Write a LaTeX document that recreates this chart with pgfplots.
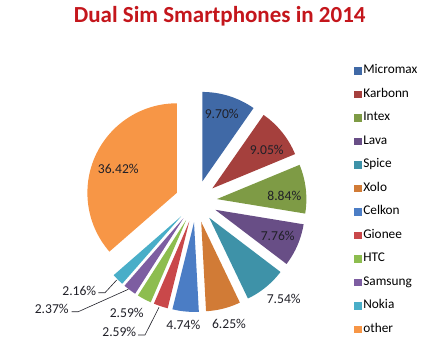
\documentclass[border=0pt]{standalone}
\usepackage{pgfplots}
\pgfplotsset{compat=1.18}
\usepackage{fontspec}
\setmainfont{Carlito}
\definecolor{cMicromax}{HTML}{4069A6}
\definecolor{cKarbonn}{HTML}{A5403D}
\definecolor{cIntex}{HTML}{7E9B45}
\definecolor{cLava}{HTML}{684E86}
\definecolor{cSpice}{HTML}{3E92A8}
\definecolor{cXolo}{HTML}{D17B36}
\definecolor{cCelkon}{HTML}{4B7DC5}
\definecolor{cGionee}{HTML}{C9484A}
\definecolor{cHTC}{HTML}{8DBD4F}
\definecolor{cSamsung}{HTML}{7D5DA1}
\definecolor{cNokia}{HTML}{49AEC8}
\definecolor{cother}{HTML}{F79646}
\definecolor{ctitle}{HTML}{C4161C}
\definecolor{clabel}{HTML}{202028}
\def\cx{196}\def\cy{149.5}\def\dd{21}\def\rr{89.5}
\gdef\cum{0}
\newcommand\slice[3]{%
  \pgfmathsetmacro\sa{90-3.6*\cum}%
  \pgfmathsetmacro\newcum{\cum+#1}%
  \xdef\cum{\newcum}%
  \pgfmathsetmacro\sb{90-3.6*\cum}%
  \pgfmathsetmacro\sm{(\sa+\sb)/2}%
  \pgfmathsetmacro\tx{\cx+\dd*cos(\sm)}%
  \pgfmathsetmacro\ty{\cy+\dd*sin(\sm)}%
  \edef\temp{\noexpand\addplot[fill=#2, draw=none, domain=\sb:\sa, samples=60]
    ({\tx+\rr*cos(x)},{\ty+\rr*sin(x)}) -- (axis cs:\tx,\ty) -- cycle;}%
  \temp
  \addlegendentry{#3}%
}
\begin{document}
\begin{tikzpicture}
\begin{axis}[
  width=438pt, height=351pt, scale only axis,
  xmin=0, xmax=438, ymin=0, ymax=351,
  axis lines=none, clip=false,
  legend image code/.code={\fill[#1] (0pt,-3.75pt) rectangle (7.5pt,3.75pt);},
  legend cell align=left,
  legend style={draw=none, fill=none, at={(axis cs:351,290)}, anchor=north west,
    font=\fontsize{13.3}{15}\selectfont, row sep=8.3pt,
    nodes={inner sep=1.6pt, text height=9pt, text depth=3pt}},
]
\path (axis cs:0,0) (axis cs:438,351);
\slice{9.70}{cMicromax}{Micromax}
\slice{9.05}{cKarbonn}{Karbonn}
\slice{8.84}{cIntex}{Intex}
\slice{7.76}{cLava}{Lava}
\slice{7.54}{cSpice}{Spice}
\slice{6.25}{cXolo}{Xolo}
\slice{4.74}{cCelkon}{Celkon}
\slice{2.59}{cGionee}{Gionee}
\slice{2.59}{cHTC}{HTC}
\slice{2.37}{cSamsung}{Samsung}
\slice{2.16}{cNokia}{Nokia}
\slice{36.42}{cother}{other}
\node[font=\fontsize{23}{26}\selectfont\bfseries, text=ctitle] at (axis cs:219.7,335) {Dual Sim Smartphones in 2014};
\begin{scope}[every node/.style={font=\fontsize{13.6}{15}\selectfont, text=clabel, inner sep=0pt}]
\node at (axis cs:221.7,236.7) {9.70\%};
\node at (axis cs:266.7,201) {9.05\%};
\node at (axis cs:284.3,155) {8.84\%};
\node at (axis cs:277.7,115.3) {7.76\%};
\node at (axis cs:283.7,51.7) {7.54\%};
\node at (axis cs:229,27) {6.25\%};
\node at (axis cs:183.3,25.7) {4.74\%};
\node at (axis cs:126.7,38.3) {2.59\%};
\node at (axis cs:119.3,18.7) {2.59\%};
\node at (axis cs:51.7,41.7) {2.37\%};
\node at (axis cs:79.3,60.3) {2.16\%};
\node at (axis cs:118.3,182) {36.42\%};
\end{scope}
\draw[clabel, line width=0.6pt] (axis cs:138,16) -- (axis cs:145,16) -- (axis cs:159,43.7);
\draw[clabel, line width=0.6pt] (axis cs:71.7,39.3) -- (axis cs:78.3,39.3) -- (axis cs:128.3,61.7);
\draw[clabel, line width=0.6pt] (axis cs:98.3,58.3) -- (axis cs:105,58.3) -- (axis cs:116.7,71);
\end{axis}
\end{tikzpicture}
\end{document}
